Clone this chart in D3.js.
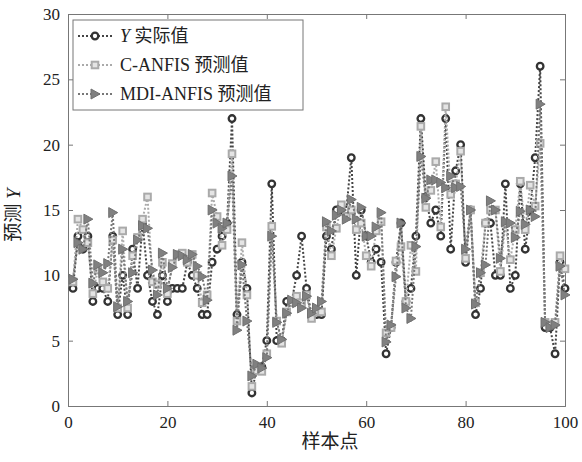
<!DOCTYPE html>
<html>
<head>
<meta charset="utf-8">
<script src="https://cdn.jsdelivr.net/npm/d3@7"></script>
<style>
  body { margin: 0; background: #fff; }
  text { font-family: "Liberation Serif", "Noto Sans CJK SC", serif; fill: #222; }
</style>
</head>
<body>
<svg id="chart"></svg>
<script>
const sampleIdx = d3.range(1, 101);

const actualY = [9, 13, 12, 13, 8, 9, 9, 8, 13, 7, 10, 7, 12, 9, 14, 10, 8, 7, 10, 8,
  9, 9, 9, 11, 10, 9, 7, 7, 11, 12, 13, 14, 22, 7, 11, 9, 1, 3, 3, 5,
  17, 5, 5, 8, 8, 10, 13, 9, 7, 7, 7, 13, 12, 15, 15, 15, 19, 10, 15, 13,
  11, 12, 11, 4, 6, 11, 14, 8, 9, 13, 22, 16, 14, 15, 13, 22, 12, 18, 20, 11,
  15, 7, 9, 14, 14, 10, 10, 17, 9, 10, 17, 12, 15, 19, 26, 6, 6, 4, 11, 9];

const cAnfis = [9.5, 14.3, 13.5, 12.5, 8.6, 10.4, 9.5, 9.0, 12.7, 7.5, 13.4, 7.5, 11.5, 12.9, 14.3, 16.0, 9.5, 9.3, 11.0, 8.6,
  10.9, 11.6, 11.7, 11.0, 11.6, 10.0, 7.9, 8.5, 16.3, 14.5, 12.3, 13.5, 19.3, 6.5, 12.5, 8.5, 1.5, 2.7, 2.65, 4.0,
  13.75, 6.5, 4.8, 7.2, 7.9, 8.4, 7.9, 8.5, 6.7, 7.2, 7.2, 13.7, 11.5, 13.6, 15.4, 14.5, 15.0, 13.5, 14.0, 11.5,
  10.7, 13.4, 14.1, 5.6, 6.0, 11.1, 12.2, 8.0, 12.3, 10.3, 21.4, 15.2, 16.5, 18.7, 13.7, 22.9, 16.2, 17.0, 19.5, 11.3,
  15.0, 7.9, 10.2, 14.0, 15.0, 15.0, 10.3, 14.0, 11.2, 13.5, 17.2, 13.5, 16.9, 15.3, 20.1, 6.4, 6.2, 6.4, 11.5, 10.5];

const mdiAnfis = [9.7, 12.5, 12.0, 14.3, 9.4, 10.8, 10.2, 10.9, 14.8, 7.6, 12.0, 8.0, 10.2, 12.7, 13.8, 13.6, 10.4, 8.5, 11.7, 9.0,
  10.6, 11.6, 11.5, 11.2, 11.6, 10.7, 9.9, 8.1, 15.0, 14.0, 13.6, 14.0, 17.6, 5.8, 10.8, 6.5, 2.3, 3.2, 2.9, 3.7,
  13.0, 6.4, 5.1, 7.1, 8.1, 7.9, 7.5, 8.4, 7.1, 7.5, 8.0, 14.1, 13.4, 14.6, 15.0, 14.3, 15.8, 14.3, 15.2, 13.0,
  13.0, 13.7, 14.8, 4.9, 6.2, 9.9, 14.0, 7.5, 6.7, 12.2, 19.1, 15.9, 17.3, 17.3, 17.1, 16.7, 17.6, 16.7, 16.8, 12.0,
  15.0, 7.8, 10.2, 10.8, 15.7, 15.0, 11.3, 14.1, 14.0, 12.9, 14.9, 13.9, 15.0, 14.5, 23.1, 6.4, 6.0, 6.2, 10.7, 8.5];

const xTicks = [0, 20, 40, 60, 80, 100];
const yTicks = [0, 5, 10, 15, 20, 25, 30];

const width = 582;
const height = 462;
const margin = { left: 68, right: 17, top: 14, bottom: 56 };
const innerW = width - margin.left - margin.right;
const innerH = height - margin.top - margin.bottom;

const svg = d3.select("#chart").attr("width", width).attr("height", height);
const g = svg.append("g").attr("transform", `translate(${margin.left},${margin.top})`);

const x = d3.scaleLinear().domain([0, 100]).range([0, innerW]);
const y = d3.scaleLinear().domain([0, 30]).range([innerH, 0]);

// axes, MATLAB style ticks inside
const axisColor = "#777";
g.append("g").attr("transform", `translate(0,${innerH})`)
  .call(d3.axisBottom(x).tickValues(xTicks).tickSize(-5).tickPadding(10));
g.append("g")
  .call(d3.axisLeft(y).tickValues(yTicks).tickSize(-5).tickPadding(8));
g.append("g").call(d3.axisTop(x).tickValues(xTicks).tickSize(-5).tickFormat(""));
g.append("g").attr("transform", `translate(${innerW},0)`)
  .call(d3.axisRight(y).tickValues(yTicks).tickSize(-5).tickFormat(""));
g.selectAll(".domain").attr("stroke", axisColor);
g.selectAll(".tick line").attr("stroke", axisColor);
g.selectAll(".tick text").style("font-size", "17px").attr("fill", "#222");

const series = [
  { name: "actual", values: actualY, line: "#444", marker: "circle" },
  { name: "c", values: cAnfis, line: "#aaa", marker: "square" },
  { name: "mdi", values: mdiAnfis, line: "#777", marker: "triangle" }
];

const line = d3.line().x((d) => x(d[0])).y((d) => y(d[1]));

function drawMarker(sel, type) {
  if (type === "circle") {
    sel.append("circle").attr("r", 3.3)
      .attr("fill", "#fff").attr("stroke", "#333").attr("stroke-width", 2.3);
  } else if (type === "square") {
    sel.append("rect").attr("x", -3.3).attr("y", -3.3).attr("width", 6.6).attr("height", 6.6)
      .attr("fill", "#e4e4e4").attr("stroke", "#aaa").attr("stroke-width", 2);
  } else {
    sel.append("path").attr("d", "M-4,-5L5,0L-4,5Z")
      .attr("fill", "#808080").attr("stroke", "#707070").attr("stroke-width", 1);
  }
}

series.forEach((s) => {
  const pts = sampleIdx.map((i, k) => [i, s.values[k]]);
  g.append("path").datum(pts)
    .attr("d", line)
    .attr("fill", "none")
    .attr("stroke", s.line)
    .attr("stroke-width", 2)
    .attr("stroke-dasharray", "2,2");
  g.append("g").selectAll("g").data(pts).join("g")
    .attr("transform", (d) => `translate(${x(d[0])},${y(d[1])})`)
    .each(function () { drawMarker(d3.select(this), s.marker); });
});

// legend
const legend = g.append("g").attr("transform", "translate(5,6)");
legend.append("rect").attr("width", 230).attr("height", 90)
  .attr("fill", "#fff").attr("stroke", "#777").attr("stroke-width", 1);
const labels = [
  { pre: "Y", text: " 实际值" },
  { pre: "", text: "C-ANFIS 预测值" },
  { pre: "", text: "MDI-ANFIS 预测值" }
];
labels.forEach((l, i) => {
  const s = series[i];
  const row = legend.append("g").attr("transform", `translate(0,${16 + i * 29})`);
  row.append("line").attr("x1", 5).attr("x2", 40).attr("y1", 0).attr("y2", 0)
    .attr("stroke", s.line).attr("stroke-width", 2).attr("stroke-dasharray", "2,2");
  const m = row.append("g").attr("transform", "translate(22,0)");
  drawMarker(m, s.marker);
  const t = row.append("text").attr("x", 47).attr("y", 6).style("font-size", "18px");
  if (l.pre) t.append("tspan").style("font-style", "italic").text(l.pre);
  t.append("tspan").text(l.text);
});

// axis labels
svg.append("text")
  .attr("x", 330).attr("y", 448)
  .attr("text-anchor", "middle").style("font-size", "19px").text("样本点");
const yl = svg.append("text")
  .attr("transform", "translate(20,215) rotate(-90)")
  .attr("text-anchor", "middle").style("font-size", "19px");
yl.append("tspan").text("预测 ");
yl.append("tspan").style("font-style", "italic").text("Y");
</script>
</body>
</html>
